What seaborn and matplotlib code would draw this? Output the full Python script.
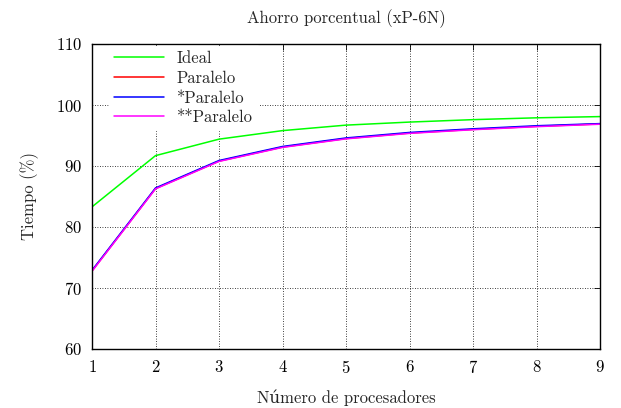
import matplotlib
matplotlib.use("Agg")
import matplotlib.pyplot as plt
import seaborn as sns
import pandas as pd

procesadores = [1, 2, 3, 4, 5, 6, 7, 8, 9]
ideal = [83.3, 91.7, 94.4, 95.8, 96.7, 97.2, 97.6, 97.9, 98.1]
paralelo = [72.8, 86.3, 90.8, 93.1, 94.5, 95.4, 96.0, 96.5, 96.9]
paralelo1 = [72.9, 86.4, 90.9, 93.2, 94.6, 95.5, 96.1, 96.6, 96.95]
paralelo2 = [72.75, 86.25, 90.75, 93.05, 94.45, 95.35, 95.95, 96.45, 96.85]
series_names = ["Ideal", "Paralelo", "*Paralelo", "**Paralelo"]
colors = ["#00ff00", "#ff0000", "#0000ff", "#ff00ff"]

rows = []
for name, vals in zip(series_names, [ideal, paralelo, paralelo1, paralelo2]):
    for x, v in zip(procesadores, vals):
        rows.append({"x": x, "y": v, "serie": name})
df = pd.DataFrame(rows)

sns.set_theme(style="white")
plt.rcParams["font.family"] = ["cmr10", "DejaVu Serif"]
plt.rcParams["mathtext.fontset"] = "cm"
plt.rcParams["axes.formatter.use_mathtext"] = True

fig = plt.figure(figsize=(6.21, 4.08), dpi=100)
ax = fig.add_axes([92/621, 1-349/408, (600-92)/621, (349-44)/408])

sns.lineplot(data=df, x="x", y="y", hue="serie", hue_order=series_names,
             palette=colors, ax=ax, linewidth=1.1, legend=False)

ax.set_xlim(1, 9)
ax.set_ylim(60, 110)
ax.set_xticks(procesadores)
ax.set_yticks([60, 70, 80, 90, 100, 110])
ax.grid(True, color="black", linestyle=(0, (1, 2)), linewidth=0.6)
ax.tick_params(direction="in", top=True, right=True, length=4, width=0.6,
               labelsize=12, colors="black", pad=7)
for s in ax.spines.values():
    s.set_color("black")
    s.set_linewidth(1.0)

ax.set_xlabel("Número de procesadores", fontsize=12, labelpad=10)
ax.set_ylabel("Tiempo (%)", fontsize=12, labelpad=12)
ax.set_title("Ahorro porcentual (xP-6N)", fontsize=12, pad=15)

handles = [plt.Line2D([], [], color=c, linewidth=1.1) for c in colors]
leg = ax.legend(handles, series_names, loc="upper left",
                bbox_to_anchor=(17/508, 1 - 2/305), frameon=True,
                fontsize=12, handlelength=3.0, borderaxespad=0.0,
                labelspacing=0.26, handletextpad=0.75, borderpad=0.3,
                fancybox=False)
leg.get_frame().set_facecolor("white")
leg.get_frame().set_edgecolor("white")
leg.get_frame().set_alpha(1.0)

fig.savefig("out.png", dpi=100)
